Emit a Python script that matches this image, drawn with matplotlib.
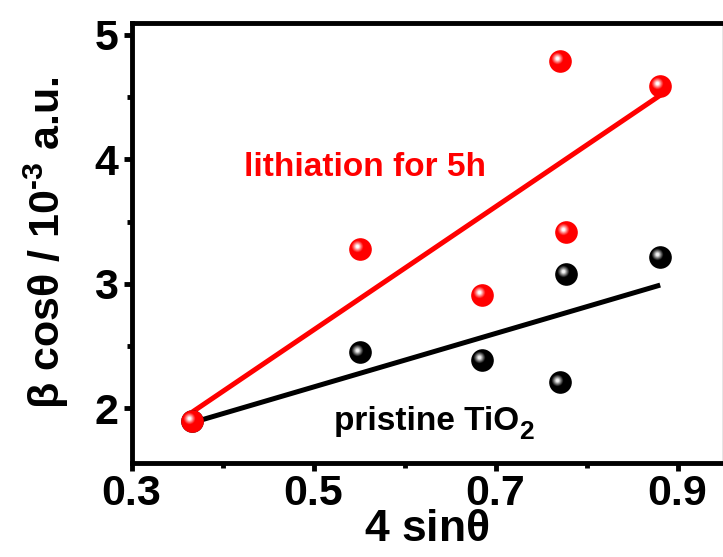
import numpy as np
import matplotlib.pyplot as plt
from matplotlib.colors import to_rgb
from matplotlib.transforms import offset_copy

plt.rcParams.update({
    'font.family': 'Liberation Sans',
    'font.weight': 'bold',
    'mathtext.fontset': 'custom',
    'mathtext.rm': 'Liberation Sans',
    'mathtext.bf': 'Liberation Sans:bold',
    'mathtext.it': 'Liberation Sans:italic',
})

# Williamson-Hall data: 4 sin(theta) vs beta cos(theta) (x 1e-3)
sin_x = [0.367, 0.551, 0.685, 0.771, 0.778, 0.881]
beta_pristine = [1.90, 2.45, 2.39, 2.21, 3.08, 3.22]
beta_lith = [1.90, 3.28, 2.91, 4.79, 3.42, 4.59]

x_ticks = [0.3, 0.5, 0.7, 0.9]
y_ticks = [2, 3, 4, 5]

fig = plt.figure(figsize=(7.23, 5.57), dpi=100)
ax = fig.add_axes([131.5 / 723, 94.5 / 557, 591.5 / 723, 440 / 557])


def balls(x, y, base, glow, z, d=16.3):
    # shaded sphere markers: base disc plus shrinking, brightening discs
    x = np.asarray(x)
    y = np.asarray(y)
    ax.scatter(x, y, s=d ** 2, color=base, lw=0, zorder=z)
    c0 = np.array(to_rgb(base))
    c1 = np.array(to_rgb(glow))
    tr = offset_copy(ax.transData, fig=fig, x=-2.3, y=1.9, units='points')
    for t in np.linspace(0, 1, 16):
        r = d * (0.55 * (1 - t) + 0.12 * t)
        w = t ** 1.1
        ax.scatter(x, y, s=r ** 2, color=c0 * (1 - w) + c1 * w, lw=0,
                   transform=tr, zorder=z + 0.01)


xs = np.array([min(sin_x), max(sin_x)])
for yv, col in [(beta_lith, '#ff0000'), (beta_pristine, 'black')]:
    k, b = np.polyfit(sin_x, yv, 1)
    ax.plot(xs, k * xs + b, color=col, lw=3.6, solid_capstyle='butt', zorder=2)

balls(sin_x, beta_pristine, '#000000', '#f2f2f2', 3)
balls(sin_x, beta_lith, '#ff0000', '#ffffff', 4)

ax.text(0.424, 3.866, 'lithiation for 5h', color='#ff0000', fontsize=24,
        fontweight='bold', va='baseline')
t = ax.text(0.522, 1.830, 'pristine TiO', color='black', fontsize=24,
            fontweight='bold', va='baseline')
ax.annotate('2', xy=(1, 0), xycoords=t, xytext=(0.5, -1.5),
            textcoords='offset points', fontsize=19, fontweight='bold',
            va='baseline')

ax.set_xlim(0.3, 0.95)
ax.set_ylim(1.565, 5.1)
ax.set_xticks(x_ticks)
ax.set_xticks([0.4, 0.6, 0.8], minor=True)
ax.set_yticks(y_ticks)
ax.set_yticks([2.5, 3.5, 4.5], minor=True)
ax.tick_params(which='both', direction='out', top=False, right=False, width=3.5,
               labelsize=31)
ax.tick_params(which='major', length=6)
ax.tick_params(which='minor', length=3.5)
ax.tick_params(axis='x', pad=2)
ax.tick_params(axis='y', pad=3.5)

for side in ['left', 'bottom', 'top']:
    ax.spines[side].set_linewidth(3.5)
ax.spines['right'].set_linewidth(1)
ax.spines['right'].set_color('#808080')

# greek letters in regular weight, the rest bold
ax.set_xlabel(r'4 sin$\mathrm{\theta}$', fontsize=32, fontweight='bold')
ax.set_ylabel('$\\mathrm{\\beta}$ cos$\\mathrm{\\theta}$ / 10$^{\\mathbf{\u20103}}$ a.u.',
              fontsize=31, fontweight='bold')
ax.xaxis.set_label_coords(0.5, -0.105)
ax.yaxis.set_label_coords(-0.102, 0.5)

fig.savefig('out.png', dpi=100)
